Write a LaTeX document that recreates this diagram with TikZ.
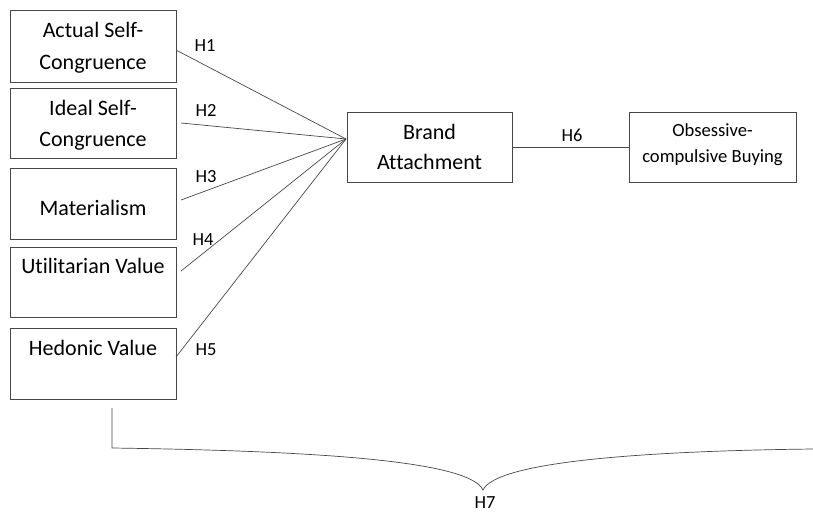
\documentclass[tikz,border=0pt]{standalone}
\usepackage{fontspec}
\setmainfont{Carlito}[Ligatures=NoCommon]
\begin{document}
\begin{tikzpicture}[x=1pt,y=-1pt,
  box/.style={draw=black!72, line width=0.9pt, inner sep=0pt, outer sep=0pt, anchor=north west},
  big/.style={font=\fontsize{22}{26}\selectfont, text=black, inner sep=0pt, anchor=base},
  mid/.style={font=\fontsize{18.6}{22}\selectfont, text=black, inner sep=0pt, anchor=base},
  hlab/.style={font=\fontsize{18.5}{21}\selectfont, text=black, inner sep=0pt, anchor=base},
  conn/.style={draw=black!72, line width=0.7pt}]
\useasboundingbox (0,0) rectangle (813,512);
% boxes
\node[box, minimum width=166pt, minimum height=72pt] (b1) at (10,10) {};
\node[box, minimum width=166pt, minimum height=70pt] (b2) at (10,88) {};
\node[box, minimum width=166pt, minimum height=71pt] (b3) at (10,168) {};
\node[box, minimum width=166pt, minimum height=70pt] (b4) at (10,247) {};
\node[box, minimum width=166pt, minimum height=71pt] (b5) at (10,328) {};
\node[box, minimum width=165pt, minimum height=70pt] (ba) at (347,112) {};
\node[box, minimum width=167pt, minimum height=70pt] (ob) at (629,112) {};
% texts
\node[big] (t1a) at (93,37) {Actual Self-};
\node[big] (t1b) at (93,69) {Congruence};
\node[big] (t2a) at (93,115) {Ideal Self-};
\node[big] (t2b) at (93,146) {Congruence};
\node[big] (t3) at (93,215) {Materialism};
\node[big] (t4) at (93,273) {Utilitarian Value};
\node[big] (t5) at (93,355) {Hedonic Value};
\node[big] (tba) at (429.5,139) {Brand};
\node[big] (tbb) at (429.5,169) {Attachment};
\node[mid] (toa) at (712.5,136) {Obsessive-};
\node[mid] (tob) at (712.5,162) {compulsive Buying};
% labels
\node[hlab] (h1) at (205,51) {H1};
\node[hlab] (h2) at (206,116) {H2};
\node[hlab] (h3) at (206,182) {H3};
\node[hlab] (h4) at (203,245) {H4};
\node[hlab] (h5) at (206,355) {H5};
\node[hlab] (h6) at (572,141) {H6};
\node[hlab] (h7) at (485,508) {H7};
% connectors
\coordinate (hub) at (346,139);
\draw[conn] ([yshift=-4pt]b1.east) -- (hub);
\draw[conn] ([xshift=5pt]b2.east) -- (hub);
\draw[conn] ([xshift=5pt,yshift=3.5pt]b3.east) -- (hub);
\draw[conn] ([xshift=5pt,yshift=11pt]b4.east) -- (hub);
\draw[conn] ([yshift=6.5pt]b5.east) -- (hub);
\draw[conn] (ba.east) -- (ob.west);
% brace
\coordinate (bs) at (112,408);
\coordinate (bc) at (112,448);
\coordinate (tip) at (483,490);
\coordinate (be) at (813,449);
\draw[conn] (bs) -- (bc) .. controls (330,451) and (470,462) .. (tip)
  .. controls (496,462) and (640,451) .. (be);
\end{tikzpicture}
\end{document}
